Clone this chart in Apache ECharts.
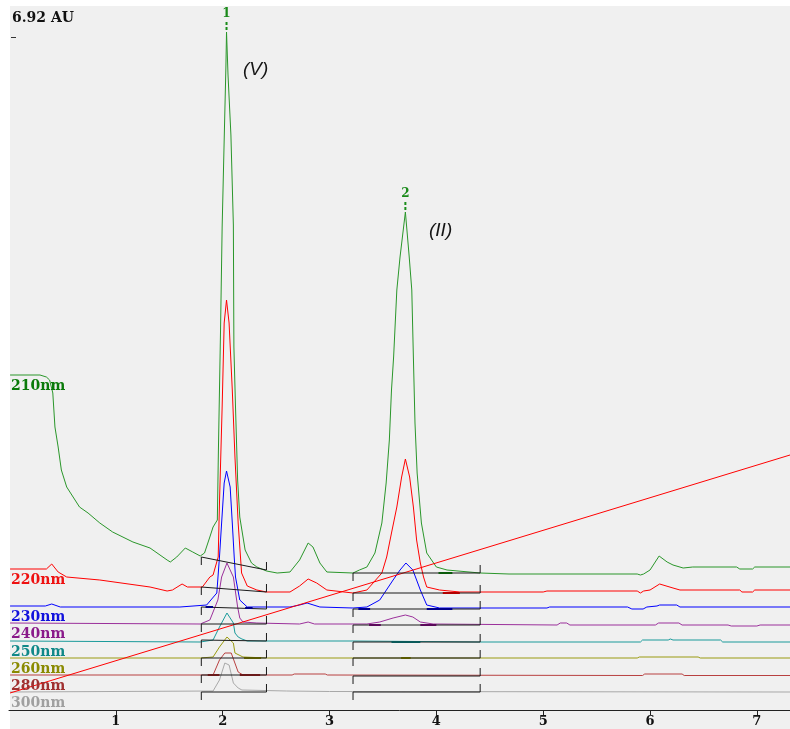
<!DOCTYPE html>
<html>
<head>
<meta charset="utf-8">
<script src="https://cdn.jsdelivr.net/npm/echarts@6/dist/echarts.min.js"></script>
<style>
  html, body { margin: 0; padding: 0; background: #ffffff; }
  #panel { position: absolute; left: 10px; top: 6px; width: 780px; height: 723px; background: #f0f0f0; }
  #chart { position: absolute; left: 0; top: 0; width: 790px; height: 729px; }
</style>
</head>
<body>
<div id="panel"></div>
<div id="chart"></div>
<script>
// Multi-wavelength chromatogram: time (min) vs absorbance (AU), traces stacked by channel.

const wavelengths = ['210nm', '220nm', '230nm', '240nm', '250nm', '260nm', '280nm', '300nm'];
const xTickValues = [1, 2, 3, 4, 5, 6, 7];
const peakNames = ['1', '2'];
const peakWindows = [[1.9, 2.2], [3.5, 3.9]];

// [time, AU]
const trace210 = [
  [0.01,3.35],[0.29,3.35],[0.35,3.33],[0.38,3.30],[0.41,3.17],[0.43,2.83],[0.46,2.63],[0.49,2.40],
  [0.54,2.23],[0.60,2.13],[0.66,2.03],[0.74,1.97],[0.85,1.87],[0.97,1.78],[1.16,1.68],[1.32,1.62],
  [1.48,1.50],[1.51,1.48],[1.57,1.53],[1.65,1.62],[1.72,1.58],[1.79,1.54],[1.83,1.57],[1.88,1.73],
  [1.91,1.83],[1.95,1.90],[1.96,2.60],[1.98,3.80],[1.995,4.83],[2.014,5.70],[2.03,6.42],[2.036,6.78],
  [2.05,6.35],[2.077,5.75],[2.10,4.85],[2.105,3.63],[2.12,3.03],[2.14,2.30],[2.16,1.93],[2.21,1.60],
  [2.27,1.47],[2.32,1.43],[2.41,1.39],[2.51,1.37],[2.63,1.38],[2.72,1.50],[2.80,1.67],[2.845,1.63],
  [2.91,1.47],[2.975,1.38],[3.22,1.37],[3.28,1.40],[3.35,1.43],[3.425,1.57],[3.49,1.87],[3.53,2.27],
  [3.56,2.70],[3.58,3.20],[3.60,3.53],[3.63,4.20],[3.66,4.53],[3.71,4.98],[3.746,4.53],[3.77,4.20],
  [3.785,3.53],[3.80,2.87],[3.82,2.37],[3.86,1.87],[3.91,1.57],[4.00,1.43],[4.10,1.40],[4.41,1.37],
  [4.68,1.36],[5.88,1.36],[5.91,1.35],[5.94,1.36],[6.00,1.40],[6.085,1.54],[6.16,1.48],[6.215,1.45],
  [6.31,1.42],[6.40,1.43],[6.81,1.43],[6.84,1.41],[6.96,1.41],[6.98,1.43],[7.31,1.43]
];
const trace220 = [
  [0.01,1.41],[0.35,1.41],[0.40,1.46],[0.46,1.38],[0.54,1.33],[0.85,1.30],[1.32,1.23],[1.48,1.19],
  [1.53,1.20],[1.62,1.26],[1.67,1.23],[1.81,1.23],[1.88,1.33],[1.91,1.35],[1.958,1.53],[1.97,2.07],
  [1.995,3.03],[2.014,3.87],[2.036,4.10],[2.06,3.87],[2.09,3.20],[2.115,2.53],[2.145,1.87],[2.177,1.37],
  [2.23,1.24],[2.32,1.20],[2.41,1.18],[2.63,1.18],[2.72,1.24],[2.80,1.31],[2.88,1.27],[2.975,1.20],
  [3.22,1.17],[3.35,1.20],[3.49,1.37],[3.535,1.53],[3.58,1.77],[3.63,2.03],[3.675,2.33],[3.71,2.51],
  [3.75,2.33],[3.785,2.03],[3.815,1.70],[3.85,1.47],[3.88,1.33],[3.91,1.23],[4.03,1.20],[4.22,1.18],
  [5.00,1.18],[5.035,1.19],[5.88,1.19],[5.91,1.17],[5.94,1.19],[6.00,1.20],[6.09,1.26],[6.215,1.22],
  [6.28,1.20],[6.84,1.20],[6.86,1.18],[6.96,1.18],[6.98,1.20],[7.31,1.20]
];
const trace230 = [
  [0.01,1.04],[0.34,1.04],[0.40,1.06],[0.48,1.03],[1.60,1.03],[1.85,1.05],[1.945,1.17],[1.97,1.53],
  [1.99,1.87],[2.014,2.27],[2.036,2.39],[2.07,2.23],[2.09,1.87],[2.108,1.53],[2.12,1.33],[2.16,1.10],
  [2.23,1.03],[2.63,1.03],[2.72,1.05],[2.79,1.07],[2.91,1.03],[3.22,1.02],[3.35,1.03],[3.47,1.10],
  [3.595,1.30],[3.66,1.40],[3.715,1.47],[3.78,1.40],[3.85,1.20],[3.91,1.05],[4.03,1.02],[5.035,1.02],
  [5.06,1.03],[5.79,1.03],[5.83,1.01],[5.935,1.01],[5.97,1.03],[6.065,1.04],[6.09,1.05],[6.25,1.05],
  [6.28,1.03],[7.31,1.03]
];
const trace240 = [
  [0.01,0.87],[1.79,0.86],[1.88,0.90],[1.955,1.10],[1.99,1.33],[2.04,1.47],[2.10,1.33],[2.14,1.03],
  [2.16,0.92],[2.19,0.88],[2.32,0.87],[2.72,0.86],[2.80,0.88],[2.86,0.86],[3.35,0.86],[3.47,0.88],
  [3.595,0.92],[3.71,0.95],[3.78,0.93],[3.85,0.88],[3.97,0.86],[5.13,0.85],[5.16,0.87],[5.22,0.87],
  [5.25,0.85],[6.05,0.85],[6.08,0.87],[6.27,0.87],[6.30,0.85],[6.73,0.85],[6.76,0.84],[7.00,0.84],
  [7.03,0.85],[7.31,0.85]
];
const trace250 = [
  [0.01,0.69],[1.79,0.68],[1.91,0.70],[1.97,0.83],[2.04,0.97],[2.10,0.87],[2.115,0.77],[2.145,0.73],
  [2.18,0.71],[2.23,0.69],[3.22,0.69],[4.41,0.68],[5.91,0.68],[5.93,0.70],[6.17,0.70],[6.19,0.71],
  [6.215,0.70],[6.66,0.70],[6.68,0.68],[7.31,0.68]
];
const trace260 = [
  [0.01,0.52],[1.79,0.52],[1.91,0.53],[1.97,0.63],[2.04,0.73],[2.10,0.67],[2.115,0.57],[2.19,0.53],
  [2.42,0.52],[5.88,0.52],[5.90,0.53],[6.45,0.53],[6.47,0.52],[7.31,0.52]
];
const trace280 = [
  [0.01,0.35],[1.91,0.35],[1.97,0.50],[2.02,0.57],[2.08,0.57],[2.145,0.38],[2.19,0.35],[2.65,0.35],
  [2.67,0.36],[2.96,0.36],[2.98,0.35],[5.93,0.345],[5.95,0.36],[6.30,0.36],[6.32,0.345],[7.31,0.345]
];
const trace300 = [
  [0.01,0.18],[1.91,0.19],[1.97,0.30],[2.02,0.47],[2.06,0.45],[2.10,0.27],[2.145,0.22],[2.18,0.20],
  [2.60,0.19],[3.00,0.185],[7.31,0.18]
];

// Solvent gradient profile
const gradientLine = [[0.01, 0.17], [7.31, 2.55]];

// Integration baselines per channel: [tStart, AUStart, tEnd, AUEnd]
const baselines210 = [[1.80, 1.53, 2.41, 1.40], [3.22, 1.37, 4.41, 1.37]];
const baselines220 = [[1.80, 1.23, 2.41, 1.18], [3.22, 1.17, 4.41, 1.17]];
const baselines230 = [[1.80, 1.03, 2.41, 1.01], [3.22, 1.01, 4.41, 1.01]];
const baselines240 = [[1.80, 0.86, 2.41, 0.86], [3.22, 0.85, 4.41, 0.85]];
const baselines250 = [[1.80, 0.70, 2.41, 0.69], [3.22, 0.68, 4.41, 0.68]];
const baselines260 = [[1.80, 0.52, 2.41, 0.52], [3.22, 0.52, 4.41, 0.52]];
const baselines280 = [[1.80, 0.35, 2.41, 0.35], [3.22, 0.34, 4.41, 0.34]];
const baselines300 = [[1.80, 0.18, 2.41, 0.18], [3.22, 0.18, 4.41, 0.18]];

// Peak start/end markers on the integration baselines: [tStart, tEnd, AU, channel]
const peakMarkers = [
  [4.02, 4.15, 1.37, 0],
  [4.06, 4.22, 1.17, 1],
  [1.84, 1.91, 1.03, 2], [2.21, 2.28, 1.02, 2], [3.27, 3.38, 1.01, 2], [3.91, 4.15, 1.01, 2],
  [3.37, 3.48, 0.85, 3], [3.85, 4.00, 0.85, 3],
  [3.58, 3.85, 0.68, 4],
  [2.20, 2.36, 0.52, 5], [3.67, 3.76, 0.52, 5],
  [1.86, 1.97, 0.35, 6], [2.16, 2.35, 0.35, 6]
];

const traces = [trace210, trace220, trace230, trace240, trace250, trace260, trace280, trace300];
const baselineSets = [baselines210, baselines220, baselines230, baselines240,
                      baselines250, baselines260, baselines280, baselines300];

const lineColors   = ['#2a962a', '#ff0000', '#0000ff', '#9b309b', '#1a9a9a', '#9a9a10', '#b84040', '#a8a8a8'];
const labelColors  = ['#0a7a0a', '#ee1111', '#1111dd', '#8a1a8a', '#108888', '#8a8a00', '#a03030', '#a0a0a0'];
const markerColors = ['#0a5a0a', '#b00000', '#00008b', '#5a0a5a', '#0a5a5a', '#5a5a00', '#6a1a1a', '#555555'];

const serifBold = '"DejaVu Serif", "Liberation Serif", serif';

function apexIn(trace, lo, hi) {
  let best = null;
  trace.forEach(p => {
    if (p[0] >= lo && p[0] <= hi && (!best || p[1] > best[1])) best = p;
  });
  return best;
}
const peakApexes = peakWindows.map(w => apexIn(trace210, w[0], w[1]));

const allBaselines = [];
baselineSets.forEach(set => set.forEach(b => allBaselines.push(b)));

const labelAnchors = traces.map(tr => tr[0]);

const series = [];
for (let i = traces.length - 1; i >= 0; i--) {
  series.push({
    name: wavelengths[i],
    type: 'line',
    data: traces[i],
    showSymbol: false,
    symbol: 'none',
    smooth: false,
    lineStyle: { color: lineColors[i], width: 1 },
    z: 2
  });
}
series.push({
  name: 'gradient',
  type: 'line',
  data: gradientLine,
  showSymbol: false,
  symbol: 'none',
  lineStyle: { color: '#ff0000', width: 1 },
  z: 3
});
series.push({
  name: 'baselines',
  type: 'custom',
  data: allBaselines,
  encode: { x: [0, 2], y: [1, 3] },
  z: 4,
  renderItem: function (params, api) {
    const a = api.coord([api.value(0), api.value(1)]);
    const b = api.coord([api.value(2), api.value(3)]);
    const st = { stroke: '#1a1a1a', lineWidth: 1 };
    return {
      type: 'group',
      children: [
        { type: 'line', shape: { x1: a[0], y1: a[1], x2: b[0], y2: b[1] }, style: st },
        // start tick hangs below, end tick rises above
        { type: 'line', shape: { x1: a[0], y1: a[1], x2: a[0], y2: a[1] + 8 }, style: st },
        { type: 'line', shape: { x1: b[0], y1: b[1] - 8, x2: b[0], y2: b[1] }, style: st }
      ]
    };
  }
});
series.push({
  name: 'peakMarkers',
  type: 'custom',
  data: peakMarkers,
  encode: { x: [0, 1], y: 2 },
  z: 5,
  renderItem: function (params, api) {
    const a = api.coord([api.value(0), api.value(2)]);
    const b = api.coord([api.value(1), api.value(2)]);
    const ch = peakMarkers[params.dataIndex][3];
    return {
      type: 'line',
      shape: { x1: a[0], y1: a[1], x2: b[0], y2: b[1] },
      style: { stroke: markerColors[ch], lineWidth: 2 }
    };
  }
});
series.push({
  name: 'peakLabels',
  type: 'custom',
  data: peakApexes,
  z: 5,
  renderItem: function (params, api) {
    const p = api.coord([api.value(0), api.value(1)]);
    return {
      type: 'group',
      children: [
        { type: 'line', shape: { x1: p[0], y1: p[1] - 2, x2: p[0], y2: p[1] - 11 },
          style: { stroke: '#1a8c1a', lineWidth: 2, lineDash: [3, 2] } },
        { type: 'text', x: p[0], y: p[1] - 18,
          style: { text: peakNames[params.dataIndex], fill: '#1a8a1a', font: 'bold 12px ' + serifBold,
                   textAlign: 'center', textVerticalAlign: 'middle', align: 'center', verticalAlign: 'middle' } }
      ]
    };
  }
});
series.push({
  name: 'channelLabels',
  type: 'custom',
  data: labelAnchors,
  z: 5,
  renderItem: function (params, api) {
    const p = api.coord([api.value(0), api.value(1)]);
    const i = params.dataIndex;
    return {
      type: 'text', x: p[0] + 1, y: p[1] + 11,
      style: { text: wavelengths[i], fill: labelColors[i], font: 'bold 14px ' + serifBold,
               textAlign: 'left', textVerticalAlign: 'middle', align: 'left', verticalAlign: 'middle' }
    };
  }
});

const chart = echarts.init(document.getElementById('chart'), null, { renderer: 'canvas' });
chart.setOption({
  animation: false,
  backgroundColor: 'transparent',
  grid: { left: 9, right: 0, top: 8, bottom: 19, containLabel: false },
  xAxis: {
    type: 'value',
    min: 0,
    max: 7.31,
    interval: 1,
    axisLine: { show: true, lineStyle: { color: '#222', width: 1 } },
    axisTick: { show: true, length: 5, customValues: xTickValues, lineStyle: { color: '#222' } },
    axisLabel: { customValues: xTickValues, color: '#111', fontFamily: serifBold, fontWeight: 'bold',
                 fontSize: 13, margin: 5 },
    splitLine: { show: false }
  },
  yAxis: { type: 'value', min: 0, max: 7.02, show: false, splitLine: { show: false } },
  graphic: [
    { type: 'text', left: 12, top: 11,
      style: { text: '6.92 AU', fill: '#111', font: 'bold 14px ' + serifBold } },
    { type: 'rect', left: 11, top: 37, shape: { width: 5, height: 1 }, style: { fill: '#333' } },
    { type: 'text', left: 243, top: 60,
      style: { text: '(V)', fill: '#151515', font: 'italic 19px "Liberation Sans", Arial, sans-serif' } },
    { type: 'text', left: 429, top: 221,
      style: { text: '(II)', fill: '#151515', font: 'italic 19px "Liberation Sans", Arial, sans-serif' } }
  ],
  series: series
});
</script>
</body>
</html>
